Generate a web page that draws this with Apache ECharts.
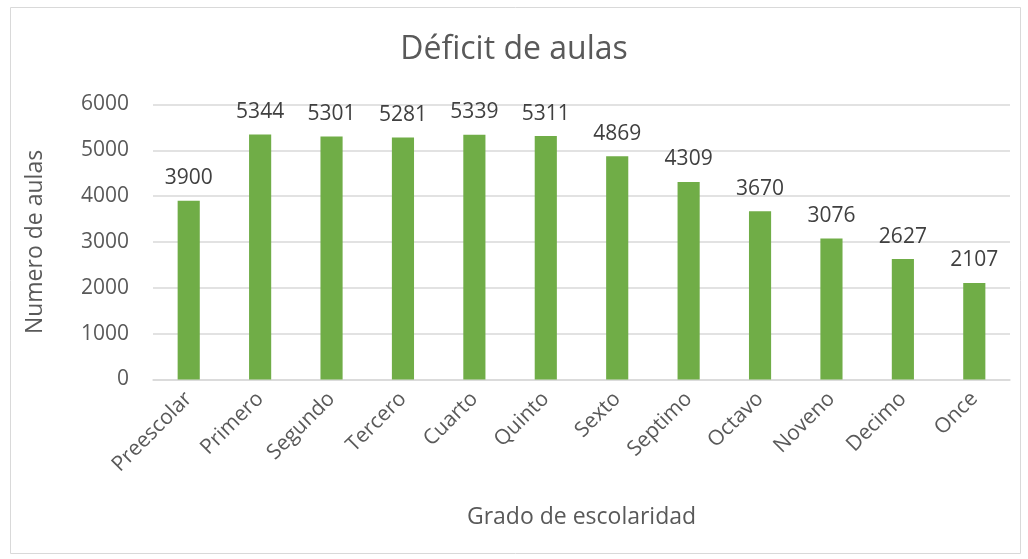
<!DOCTYPE html>
<html>
<head>
<meta charset="utf-8">
<script src="https://cdn.jsdelivr.net/npm/echarts@6/dist/echarts.min.js"></script>
<style>
html,body{margin:0;padding:0;background:#fff;}
#c{width:1028px;height:559px;}
</style>
</head>
<body>
<div id="c"></div>
<script>
const categories = ["Preescolar","Primero","Segundo","Tercero","Cuarto","Quinto","Sexto","Septimo","Octavo","Noveno","Decimo","Once"];
const values = [3900,5344,5301,5281,5339,5311,4869,4309,3670,3076,2627,2107];
const yTicks = {min:0, max:6000, interval:1000};

const FONT = '"Open Sans", "Noto Sans", sans-serif';
const chart = echarts.init(document.getElementById('c'), null, {renderer:'canvas'});
chart.setOption({
  animation:false,
  textStyle:{fontFamily:FONT},
  graphic:[{
    type:'rect', left:8, top:5,
    shape:{width:1010, height:546},
    style:{fill:'none', stroke:'#d9d9d9', lineWidth:1}
  }],
  title:{
    text:'Déficit de aulas', left:'center', top:29,
    textStyle:{fontFamily:FONT, fontSize:32, fontWeight:'normal', color:'#595959'}
  },
  grid:{left:153, right:18, top:104.5, bottom:179.5, containLabel:false},
  xAxis:{
    type:'category', data:categories,
    name:'Grado de escolaridad', nameLocation:'middle', nameGap:126,
    nameTextStyle:{fontFamily:FONT, fontSize:23, color:'#595959'},
    axisLine:{lineStyle:{color:'#d9d9d9', width:1.5}},
    axisTick:{show:false},
    axisLabel:{rotate:45, fontSize:21, color:'#595959', margin:16, interval:0, fontFamily:FONT}
  },
  yAxis:{
    type:'value', min:yTicks.min, max:yTicks.max, interval:yTicks.interval,
    name:'Numero de aulas', nameLocation:'middle', nameGap:106, nameRotate:90,
    nameTextStyle:{fontFamily:FONT, fontSize:23, color:'#595959'},
    axisLine:{show:false}, axisTick:{show:false},
    axisLabel:{fontSize:21, color:'#595959', margin:24, fontFamily:FONT, formatter:(v)=>String(v)},
    splitLine:{lineStyle:{color:'#d9d9d9', width:1.5}}
  },
  series:[{
    type:'bar', data:values, barWidth:'31%',
    itemStyle:{color:'#70ad47'},
    label:{show:true, position:'top', distance:12, fontSize:21, color:'#404040', fontFamily:FONT}
  }]
});
</script>
</body>
</html>
